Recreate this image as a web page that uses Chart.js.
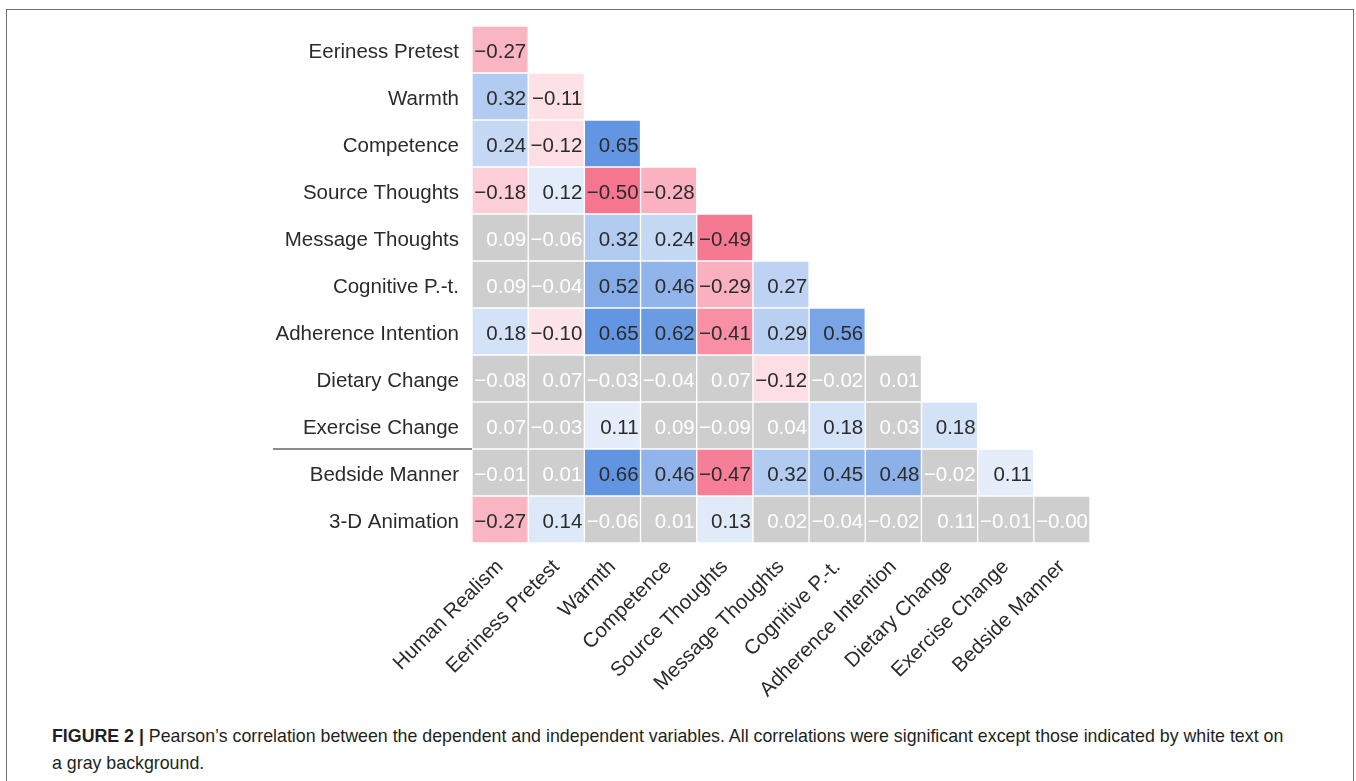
<!DOCTYPE html>
<html>
<head>
<meta charset="utf-8">
<title>Pearson correlations</title>
<script src="https://cdn.jsdelivr.net/npm/chart.js@4.4.0/dist/chart.umd.min.js"></script>
<style>
  html, body { margin: 0; overflow: hidden; background: #fff; font-family: "Liberation Sans", Arial, sans-serif; }
  #frame { position: absolute; left: 6px; top: 9px; width: 1348px; height: 820px; border: 1.5px solid #6f6f6f; box-sizing: border-box; }
  #heat { position: absolute; left: 0; top: 0; }
  #caption { position: absolute; left: 52px; top: 723px; width: 1290px; font-size: 17.8px; line-height: 27px; color: #231f20; }
</style>
</head>
<body>
<div id="frame"></div>
<canvas id="heat" width="1356" height="700"></canvas>
<div id="caption"><b>FIGURE 2 |</b> Pearson’s correlation between the dependent and independent variables. All correlations were significant except those indicated by white text on<br>a gray background.</div>
<script>
const rowLabels = ['Eeriness Pretest', 'Warmth', 'Competence', 'Source Thoughts', 'Message Thoughts',
  'Cognitive P.-t.', 'Adherence Intention', 'Dietary Change', 'Exercise Change', 'Bedside Manner', '3-D Animation'];
const colLabels = ['Human Realism', 'Eeriness Pretest', 'Warmth', 'Competence', 'Source Thoughts',
  'Message Thoughts', 'Cognitive P.-t.', 'Adherence Intention', 'Dietary Change', 'Exercise Change', 'Bedside Manner'];

// lower triangle, row i holds correlations with the first i+1 columns
const r = [
  [-0.27],
  [0.32, -0.11],
  [0.24, -0.12, 0.65],
  [-0.18, 0.12, -0.50, -0.28],
  [0.09, -0.06, 0.32, 0.24, -0.49],
  [0.09, -0.04, 0.52, 0.46, -0.29, 0.27],
  [0.18, -0.10, 0.65, 0.62, -0.41, 0.29, 0.56],
  [-0.08, 0.07, -0.03, -0.04, 0.07, -0.12, -0.02, 0.01],
  [0.07, -0.03, 0.11, 0.09, -0.09, 0.04, 0.18, 0.03, 0.18],
  [-0.01, 0.01, 0.66, 0.46, -0.47, 0.32, 0.45, 0.48, -0.02, 0.11],
  [-0.27, 0.14, -0.06, 0.01, 0.13, 0.02, -0.04, -0.02, 0.11, -0.01, -0.00]
];
// 1 = significant, 0 = not significant (gray cell, white text)
const sig = [
  [1],
  [1, 1],
  [1, 1, 1],
  [1, 1, 1, 1],
  [0, 0, 1, 1, 1],
  [0, 0, 1, 1, 1, 1],
  [1, 1, 1, 1, 1, 1, 1],
  [0, 0, 0, 0, 0, 1, 0, 0],
  [0, 0, 1, 0, 0, 0, 1, 0, 1],
  [0, 0, 1, 1, 1, 1, 1, 1, 0, 1],
  [1, 1, 0, 0, 1, 0, 0, 0, 0, 0, 0]
];

const FONT = '"Liberation Sans", Arial, sans-serif';
const INK = '#2b2b2b';

function cellColour(v, s) {
  if (!s) return 'rgb(206,206,206)';
  const a = Math.abs(v);
  const k = v >= 0 ? [240, 162, 45] : [18, 274, 222];
  const c = k.map(x => Math.max(0, Math.round(255 - x * a)));
  return 'rgb(' + c.join(',') + ')';
}

function fmt(v) {
  const neg = v < 0 || Object.is(v, -0);
  return (neg ? '\u2212' : '') + Math.abs(v).toFixed(2);
}

// one floating-bar dataset per column; each row gets the span [c, c+1]
const datasets = colLabels.map((col, c) => ({
  label: col,
  data: rowLabels.map((row, i) => i >= c ? [c, c + 1] : null),
  backgroundColor: rowLabels.map((row, i) => i >= c ? cellColour(r[i][c], sig[i][c]) : 'transparent'),
  borderColor: '#ffffff',
  borderWidth: 1,
  borderSkipped: false,
  barPercentage: 1,
  categoryPercentage: 1,
  grouped: false
}));

const cellText = {
  id: 'cellText',
  afterDatasetsDraw(chart) {
    const ctx = chart.ctx;
    ctx.save();
    ctx.font = '20.5px ' + FONT;
    ctx.textAlign = 'right';
    ctx.textBaseline = 'middle';
    chart.data.datasets.forEach((ds, c) => {
      chart.getDatasetMeta(c).data.forEach((bar, i) => {
        if (i < c) return;
        ctx.fillStyle = sig[i][c] ? INK : '#ffffff';
        ctx.fillText(fmt(r[i][c]), bar.x - 2, bar.y + 3);
      });
    });
    ctx.restore();
  }
};

// rule under the outcome block, between Exercise Change and Bedside Manner
const divider = {
  id: 'divider',
  afterDraw(chart) {
    const y = chart.scales.y;
    const yy = (y.getPixelForValue(8) + y.getPixelForValue(9)) / 2;
    const ctx = chart.ctx;
    ctx.save();
    ctx.strokeStyle = '#666666';
    ctx.lineWidth = 1.5;
    ctx.beginPath();
    ctx.moveTo(273, yy);
    ctx.lineTo(chart.chartArea.left, yy);
    ctx.stroke();
    ctx.restore();
  }
};

new Chart(document.getElementById('heat'), {
  type: 'bar',
  data: { labels: rowLabels, datasets: datasets },
  plugins: [cellText, divider],
  options: {
    indexAxis: 'y',
    responsive: false,
    animation: false,
    layout: { padding: { top: 26, right: 266, bottom: 0, left: 0 } },
    plugins: { legend: { display: false }, tooltip: { enabled: false } },
    scales: {
      y: {
        type: 'category',
        grid: { display: false, drawTicks: false },
        border: { display: false },
        ticks: { color: INK, padding: 13, labelOffset: 3, font: { family: FONT, size: 20.5 } },
        afterFit(scale) { scale.width = 472; }
      },
      x: {
        type: 'linear',
        min: 0,
        max: colLabels.length,
        grid: { display: false, drawTicks: false },
        border: { display: false },
        afterBuildTicks(scale) { scale.ticks = colLabels.map((c, i) => ({ value: i + 0.5 })); },
        ticks: {
          color: INK,
          padding: 12,
          autoSkip: false,
          minRotation: 45,
          maxRotation: 45,
          font: { family: FONT, size: 20.5 },
          callback: (v, i) => colLabels[i]
        },
        afterFit(scale) { scale.height = 157; }
      }
    }
  }
});
</script>
</body>
</html>
